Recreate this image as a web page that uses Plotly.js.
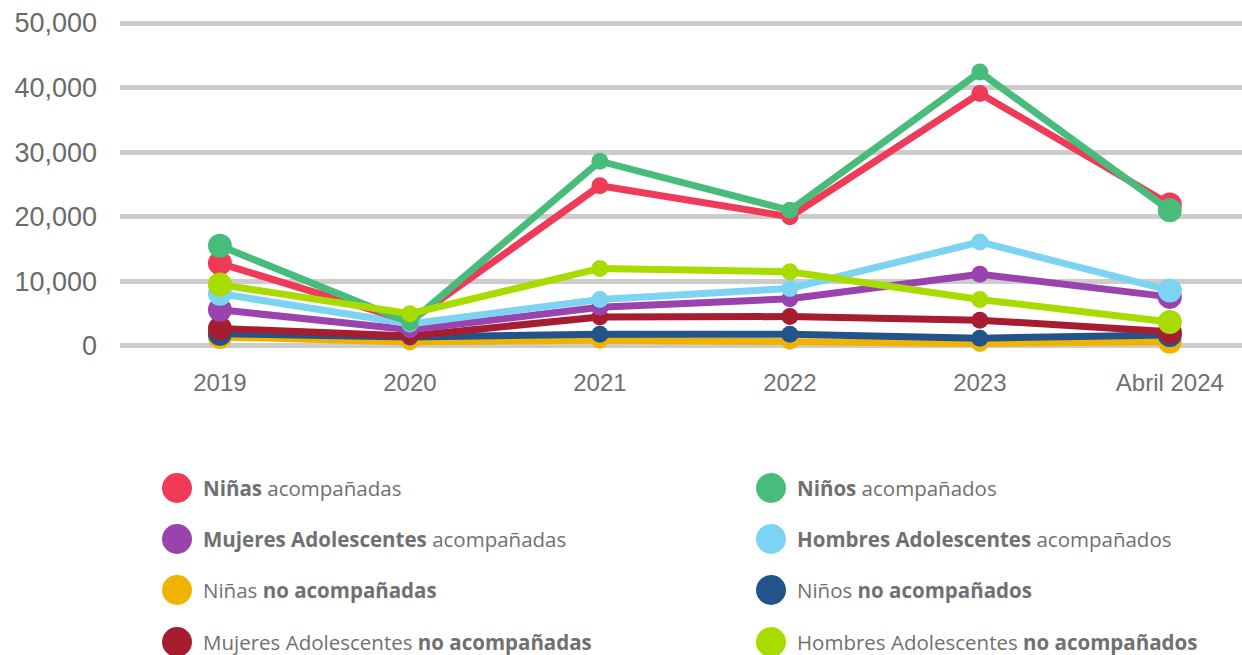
<!DOCTYPE html>
<html>
<head>
<meta charset="utf-8">
<script src="https://cdn.plot.ly/plotly-3.0.1.min.js"></script>
<style>html,body{margin:0;padding:0;background:#fff;}#chart{width:1242px;height:655px;}</style>
</head>
<body>
<div id="chart"></div>
<script>
// ---- data ----
const categories = ['2019', '2020', '2021', '2022', '2023', 'Abril 2024'];

const ninasAcompanadas        = [12800, 3800, 24800, 20000, 39100, 21900];
const ninosAcompanados        = [15500, 3600, 28600, 21000, 42400, 21000];
const mujeresAdolAcompanadas  = [5600, 2500, 6000, 7300, 11100, 7600];
const hombresAdolAcompanados  = [8100, 3400, 7200, 8900, 16100, 8600];
const ninasNoAcompanadas      = [1400, 600, 900, 750, 400, 650];
const ninosNoAcompanados      = [1900, 1400, 1800, 1800, 1200, 1700];
const mujeresAdolNoAcomp      = [2700, 1550, 4500, 4550, 4000, 2200];
const hombresAdolNoAcomp      = [9500, 5000, 12000, 11500, 7200, 3700];

const legendLabels = [
  '<b>Niñas</b> acompañadas',
  '<b>Niños</b> acompañados',
  '<b>Mujeres Adolescentes</b> acompañadas',
  '<b>Hombres Adolescentes</b> acompañados',
  'Niñas <b>no acompañadas</b>',
  'Niños <b>no acompañados</b>',
  'Mujeres Adolescentes <b>no acompañadas</b>',
  'Hombres Adolescentes <b>no acompañados</b>'
];
const plainNames = [
  'Niñas acompañadas', 'Niños acompañados',
  'Mujeres Adolescentes acompañadas', 'Hombres Adolescentes acompañados',
  'Niñas no acompañadas', 'Niños no acompañados',
  'Mujeres Adolescentes no acompañadas', 'Hombres Adolescentes no acompañados'
];
const seriesValues = [
  ninasAcompanadas, ninosAcompanados, mujeresAdolAcompanadas, hombresAdolAcompanados,
  ninasNoAcompanadas, ninosNoAcompanados, mujeresAdolNoAcomp, hombresAdolNoAcomp
];

// ---- styles ----
const colors = ['#EF3A58', '#48BD7B', '#9A42AE', '#7CD4F2', '#F0B400', '#22538A', '#A61D31', '#A8DC00'];
const drawOrder = [4, 5, 6, 2, 3, 0, 1, 7];
const endSize = 24, midSize = 17;

const traces = drawOrder.map(i => ({
  type: 'scatter',
  mode: 'lines+markers',
  name: plainNames[i],
  x: categories,
  y: seriesValues[i],
  line: {color: colors[i], width: 7},
  marker: {
    color: colors[i], opacity: 1,
    line: {width: 0, color: colors[i]},
    size: categories.map((c, k) => (k === 0 || k === categories.length - 1) ? endSize : midSize)
  },
  cliponaxis: false,
  showlegend: false
}));

// ---- layout helpers (pixel -> paper) ----
const W = 1242, H = 655;
const mL = 120, mR = 0, mT = 0, plotBottom = 366;
const mB = H - plotBottom;
const plotW = W - mL - mR, plotH = plotBottom - mT;
const px = p => (p - mL) / plotW;
const py = p => (plotBottom - p) / plotH;

const colX = [177, 771];
const rowY = [488, 539, 590, 642];
const shapes = [], annotations = [];
legendLabels.forEach((lab, i) => {
  const cx = colX[i % 2], cy = rowY[Math.floor(i / 2)];
  shapes.push({
    type: 'circle', xref: 'paper', yref: 'paper',
    xsizemode: 'pixel', ysizemode: 'pixel',
    xanchor: px(cx), yanchor: py(cy),
    x0: -15, x1: 15, y0: -15, y1: 15,
    fillcolor: colors[i], line: {width: 0}
  });
  annotations.push({
    xref: 'paper', yref: 'paper', x: px(cx + 24), y: py(cy),
    xanchor: 'left', yanchor: 'middle', showarrow: false,
    text: lab, font: {family: 'Open Sans, sans-serif', size: 20.5, color: '#707070'}
  });
});

const layout = {
  width: W, height: H,
  margin: {l: mL, r: mR, t: mT, b: mB, pad: 0},
  paper_bgcolor: '#ffffff', plot_bgcolor: '#ffffff',
  showlegend: false,
  xaxis: {
    type: 'category',
    range: [-0.526, 5.38],
    showgrid: false, zeroline: false, showline: false,
    ticks: '',
    tickfont: {family: 'Liberation Sans, Arial, sans-serif', size: 24, color: '#707070'}
  },
  yaxis: {
    range: [-3100, 53560],
    tickvals: [0, 10000, 20000, 30000, 40000, 50000],
    tickformat: ',d',
    showgrid: true, gridcolor: '#cccccc', gridwidth: 5,
    zeroline: false, showline: false,
    ticks: '', ticklabelstandoff: 22,
    tickfont: {family: 'Liberation Sans, Arial, sans-serif', size: 27, color: '#6a6a6a'}
  },
  shapes: shapes,
  annotations: annotations
};

Plotly.newPlot('chart', traces, layout, {displayModeBar: false, staticPlot: true});
</script>
</body>
</html>
